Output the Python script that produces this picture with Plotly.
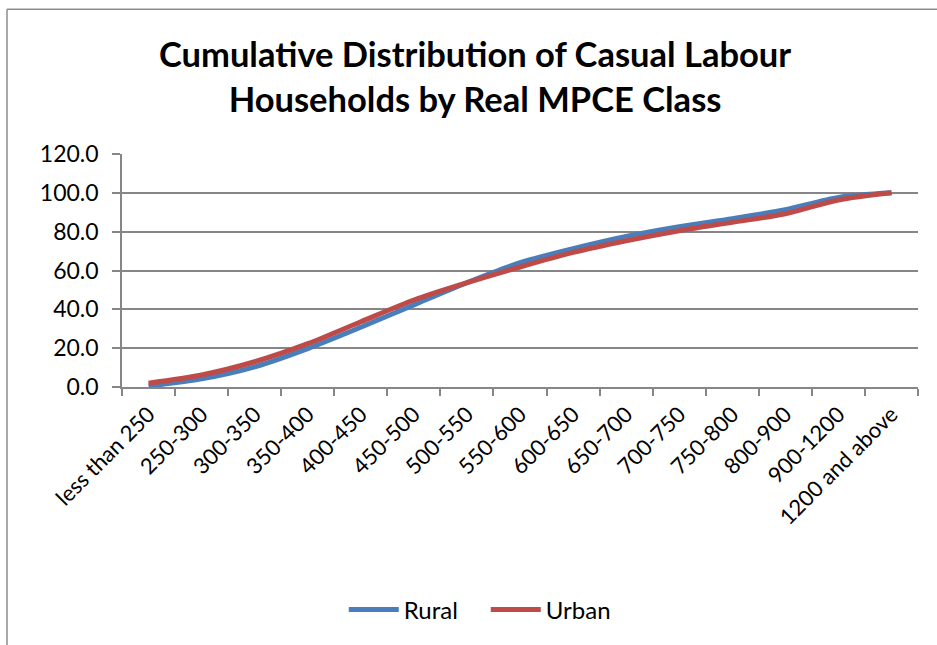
import plotly.graph_objects as go

categories = ["less than 250", "250-300", "300-350", "350-400", "400-450", "450-500",
              "500-550", "550-600", "600-650", "650-700", "700-750", "750-800",
              "800-900", "900-1200", "1200 and above"]
rural = [0.5, 4.2, 10.4, 19.8, 30.8, 42.3, 53.7, 64.0, 71.3, 77.6, 82.6, 86.7, 91.3, 97.6, 100.0]
urban = [2.0, 6.2, 13.0, 22.3, 33.6, 44.8, 53.7, 61.8, 69.3, 75.3, 80.5, 84.8, 89.2, 96.3, 100.0]

W, H = 937, 645
ML, MR, MT, MB = 122, 19, 154, 256
pw, ph = W - ML - MR, H - MT - MB

FONT = "Lato"
GRID = "#868686"

fig = go.Figure()
fig.add_trace(go.Scatter(x=categories, y=rural, name="Rural", mode="lines",
                         line=dict(color="#4A7EBB", width=5, shape="spline", smoothing=0.8)))
fig.add_trace(go.Scatter(x=categories, y=urban, name="Urban", mode="lines",
                         line=dict(color="#BE4B48", width=5, shape="spline", smoothing=0.8)))

# outer chart border (only left and top visible in the crop)
bx = (7 - ML) / pw
by = (H - MB - 8) / ph
fig.add_shape(type="line", xref="paper", yref="paper", x0=bx, x1=bx, y0=-3, y1=by,
              line=dict(color="#8c8c8c", width=1.5))
fig.add_shape(type="line", xref="paper", yref="paper", x0=bx, x1=3, y0=by, y1=by,
              line=dict(color="#8c8c8c", width=1.5))

fig.update_layout(
    width=W, height=H,
    margin=dict(l=ML, r=MR, t=MT, b=MB),
    paper_bgcolor="white", plot_bgcolor="white",
    title=dict(text="Cumulative Distribution of Casual Labour<br>Households by Real MPCE Class",
               x=0.507, xref="container", xanchor="center", y=0.896, yanchor="top",
               font=dict(family=FONT, size=34.5, color="black", weight="bold")),
    font=dict(family=FONT, size=22, color="black"),
    showlegend=True,
    legend=dict(orientation="h", x=0.457, xanchor="center", y=-0.86, yanchor="top",
                font=dict(family=FONT, size=24, color="black"), itemwidth=50,
                entrywidth=77, entrywidthmode="pixels"),
    xaxis=dict(type="category", range=[-0.5, 14.5], tickangle=-45, tickson="boundaries",
               ticks="outside", ticklen=7, tickcolor=GRID, tickwidth=1.5,
               showline=True, linecolor=GRID, linewidth=1.5, showgrid=False,
               ticklabelstandoff=4,
               tickfont=dict(family=FONT, size=22, color="black")),
    yaxis=dict(range=[0, 120], dtick=20, tickformat=".1f", ticks="outside", ticklen=8,
               tickcolor=GRID, tickwidth=1.5, showline=True, linecolor=GRID, linewidth=1.5,
               showgrid=True, gridcolor=GRID, gridwidth=1.5, zeroline=False,
               ticklabelstandoff=9,
               tickfont=dict(family=FONT, size=23, color="black")),
)

fig.write_html("out.html")
